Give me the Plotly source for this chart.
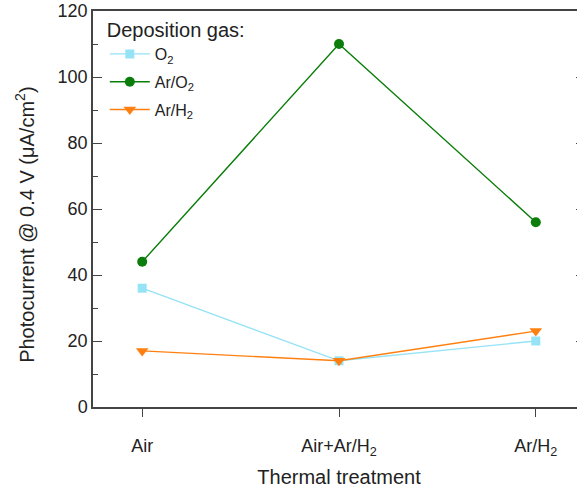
import plotly.graph_objects as go

categories = ["Air", "Air+Ar/H<sub>2</sub>", "Ar/H<sub>2</sub>"]
o2 = [36, 14, 20]
ar_o2 = [44, 110, 56]
ar_h2 = [17, 14, 23]

x = [0, 1, 2]
fig = go.Figure()
fig.add_trace(go.Scatter(x=x, y=o2, name="O<sub>2</sub>", mode="lines+markers", legendgroup="a",
                         line=dict(color="#96e3f6", width=1.4),
                         marker=dict(symbol="square", size=9, color="#96e3f6")))
fig.add_trace(go.Scatter(x=x, y=ar_o2, name="Ar/O<sub>2</sub>", mode="lines+markers", legendgroup="b",
                         line=dict(color="#0a7d0a", width=1.4),
                         marker=dict(symbol="circle", size=10, color="#0a7d0a")))
fig.add_trace(go.Scatter(x=x, y=ar_h2, name="Ar/H<sub>2</sub>", mode="lines+markers", legendgroup="c",
                         line=dict(color="#ff8010", width=1.4),
                         marker=dict(symbol="triangle-down", size=11, color="#ff8010")))

font = "Liberation Sans, Arial, sans-serif"
fig.update_layout(
    width=585, height=492,
    margin=dict(l=93, r=0, t=11, b=85, autoexpand=False),
    paper_bgcolor="white", plot_bgcolor="white",
    font=dict(family=font, color="#222"),
    showlegend=True,
    legend=dict(x=0.024, y=1.0, xanchor="left", yanchor="top",
                title=dict(text="Deposition gas:", font=dict(size=20)),
                font=dict(size=16), bgcolor="rgba(0,0,0,0)",
                tracegroupgap=4, itemwidth=40),
    xaxis=dict(range=[-0.25, 2.25], tickvals=x, ticktext=categories, automargin=False,
               showline=True, linecolor="#444", linewidth=1.5, mirror=True,
               ticks="outside", ticklen=8, tickcolor="#444", ticklabelstandoff=14,
               tickfont=dict(size=18), showgrid=False, zeroline=False,
               title=dict(text="Thermal treatment", font=dict(size=20), standoff=12)),
    yaxis=dict(range=[0, 120], tickvals=[0, 20, 40, 60, 80, 100, 120], automargin=False,
               showline=True, linecolor="#444", linewidth=1.5, mirror="ticks",
               ticks="inside", ticklen=9, tickcolor="#444",
               minor=dict(tickvals=[10, 30, 50, 70, 90, 110], ticks="inside", ticklen=5, tickcolor="#444"),
               tickfont=dict(size=18), showgrid=False, zeroline=False),
    annotations=[dict(text="Photocurrent @ 0.4 V (μA/cm<sup>2</sup>)", textangle=-90,
                      xref="paper", yref="paper", x=-68 / 492, y=0.46,
                      xanchor="center", yanchor="middle", showarrow=False,
                      font=dict(size=20))],
)
fig.write_html("out.html",
               post_script="document.documentElement.style.overflow='hidden';document.body.style.overflow='hidden';")
